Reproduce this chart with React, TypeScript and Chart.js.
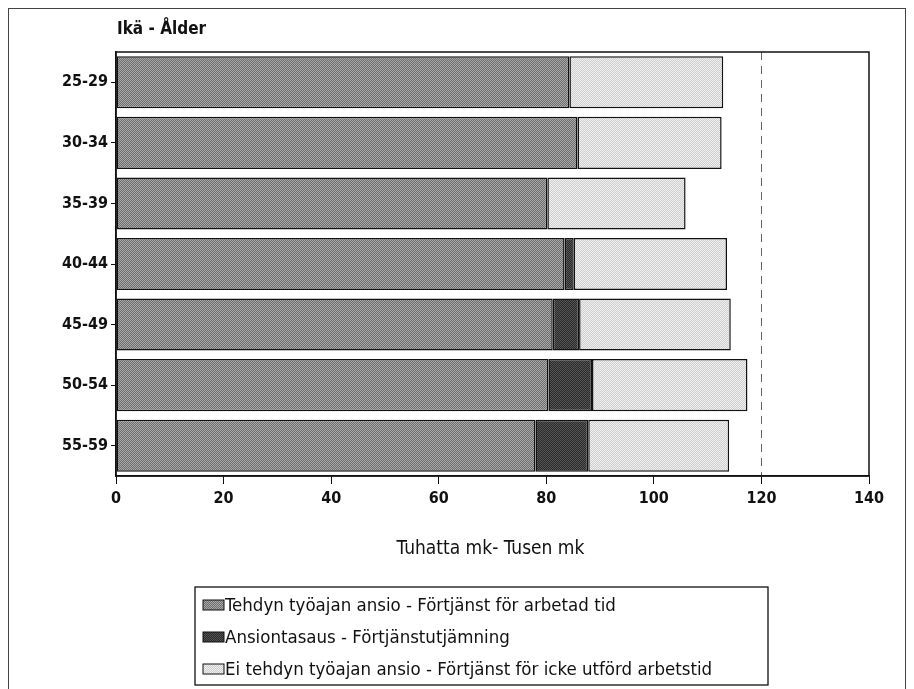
import React, { useEffect, useRef } from "react";
import { Chart, registerables } from "chart.js";

Chart.register(...registerables);

const ageGroups = ["25-29", "30-34", "35-39", "40-44", "45-49", "50-54", "55-59"];
const workedTime = [84.3, 85.8, 80.2, 83.4, 81.2, 80.4, 78.0];
const equalisation = [0, 0, 0, 1.7, 4.9, 8.1, 9.8];
const notWorkedTime = [28.6, 26.8, 25.7, 28.5, 28.2, 28.9, 26.2];
const seriesLabels = [
  "Tehdyn työajan ansio - Förtjänst för arbetad tid",
  "Ansiontasaus - Förtjänstutjämning",
  "Ei tehdyn työajan ansio - Förtjänst för icke utförd arbetstid",
];
const xTicks = [0, 20, 40, 60, 80, 100, 120, 140];
const titleText = "Ikä - Ålder";
const xTitleText = "Tuhatta mk- Tusen mk";
const referenceValue = 120;

const FONT = "'Liberation Sans Narrow', 'DejaVu Sans Condensed', 'Arial Narrow', sans-serif";

function makePattern(a: string, b: string): CanvasPattern | string {
  const c = document.createElement("canvas");
  c.width = 2;
  c.height = 2;
  const g = c.getContext("2d");
  if (!g) return a;
  g.fillStyle = a;
  g.fillRect(0, 0, 2, 2);
  g.fillStyle = b;
  g.fillRect(0, 0, 1, 1);
  g.fillRect(1, 1, 1, 1);
  const p = g.createPattern(c, "repeat");
  return p || a;
}

export default function App() {
  const ref = useRef<HTMLCanvasElement | null>(null);

  useEffect(() => {
    document.body.style.overflow = "hidden";
    const canvas = ref.current;
    if (!canvas) return;
    const medium = makePattern("#6e6e6e", "#a8a8a8");
    const dark = makePattern("#2a2a2a", "#555555");
    const light = makePattern("#cfcfcf", "#efefef");

    const extras = {
      id: "extras",
      beforeDatasetsDraw(chart: any) {
        const { ctx, chartArea, scales } = chart;
        const x = scales.x.getPixelForValue(referenceValue);
        ctx.save();
        ctx.strokeStyle = "#666";
        ctx.lineWidth = 1;
        ctx.setLineDash([8, 6]);
        ctx.beginPath();
        ctx.moveTo(Math.round(x) + 0.5, chartArea.top);
        ctx.lineTo(Math.round(x) + 0.5, chartArea.bottom);
        ctx.stroke();
        ctx.restore();
      },
      afterDraw(chart: any) {
        const { ctx, chartArea } = chart;
        ctx.save();
        ctx.strokeStyle = "#111";
        ctx.lineWidth = 1.5;
        ctx.strokeRect(chartArea.left, chartArea.top, chartArea.right - chartArea.left, chartArea.bottom - chartArea.top);

        ctx.fillStyle = "#111";
        ctx.textBaseline = "middle";
        ctx.textAlign = "left";
        ctx.font = `bold 17px ${FONT}`;
        ctx.fillText(titleText, chartArea.left + 1, 21);

        ctx.font = `19px ${FONT}`;
        ctx.textAlign = "center";
        ctx.fillText(xTitleText, (chartArea.left + chartArea.right) / 2 - 2, 540);

        // legend
        ctx.textAlign = "left";
        ctx.font = `18.5px ${FONT}`;
        const ds = chart.data.datasets;
        const lx = 186;
        const ly = 578;
        const lw = 573;
        const lh = 98;
        ctx.fillStyle = "#fff";
        ctx.fillRect(lx, ly, lw, lh);
        ctx.strokeStyle = "#111";
        ctx.lineWidth = 1.3;
        ctx.strokeRect(lx, ly, lw, lh);
        ds.forEach((d: any, i: number) => {
          const cy = ly + 18 + i * 32;
          ctx.fillStyle = d.backgroundColor;
          ctx.fillRect(lx + 8, cy - 5, 21, 10);
          ctx.strokeStyle = "#111";
          ctx.lineWidth = 1;
          ctx.strokeRect(lx + 8, cy - 5, 21, 10);
          ctx.fillStyle = "#111";
          ctx.fillText(d.label, lx + 30, cy + 1);
        });
        ctx.restore();
      },
    };

    const common = {
      borderColor: "#111",
      borderWidth: 1.5,
      borderSkipped: false,
      barPercentage: 0.86,
      categoryPercentage: 1.0,
    };

    const chart = new Chart(canvas, {
      type: "bar",
      data: {
        labels: ageGroups,
        datasets: [
          { label: seriesLabels[0], data: workedTime, backgroundColor: medium as any, ...common },
          { label: seriesLabels[1], data: equalisation, backgroundColor: dark as any, ...common },
          { label: seriesLabels[2], data: notWorkedTime, backgroundColor: light as any, ...common },
        ],
      },
      options: {
        indexAxis: "y",
        animation: false,
        responsive: false,
        layout: { padding: { top: 43, right: 36, left: 0, bottom: 183 } },
        plugins: {
          legend: { display: false },
          tooltip: { enabled: false },
        },
        scales: {
          x: {
            stacked: true,
            min: 0,
            max: 140,
            afterBuildTicks(scale: any) {
              scale.ticks = xTicks.map((v) => ({ value: v }));
            },
            afterFit(scale: any) {
              scale.height = 40;
            },
            grid: {
              drawOnChartArea: false,
              drawTicks: true,
              tickLength: 8,
              tickColor: "#111",
              tickWidth: 1,
            },
            border: { display: true, color: "#111", width: 1.5 },
            ticks: {
              color: "#111",
              padding: 5,
              font: { family: FONT, size: 16, weight: "bold" },
              maxRotation: 0,
            },
          },
          y: {
            stacked: true,
            afterFit(scale: any) {
              scale.width = 107;
            },
            grid: {
              drawOnChartArea: false,
              drawTicks: true,
              tickLength: 5,
              tickColor: "#111",
              offset: false,
            },
            border: { display: true, color: "#111", width: 1.5 },
            ticks: {
              color: "#111",
              padding: 3,
              font: { family: FONT, size: 16, weight: "bold" },
            },
          },
        },
      },
      plugins: [extras],
    });
    return () => chart.destroy();
  }, []);

  return (
    <div style={{ width: 896, height: 700, border: "1px solid #444", background: "#fff" }}>
      <canvas ref={ref} width={896} height={690} style={{ display: "block" }} />
    </div>
  );
}
